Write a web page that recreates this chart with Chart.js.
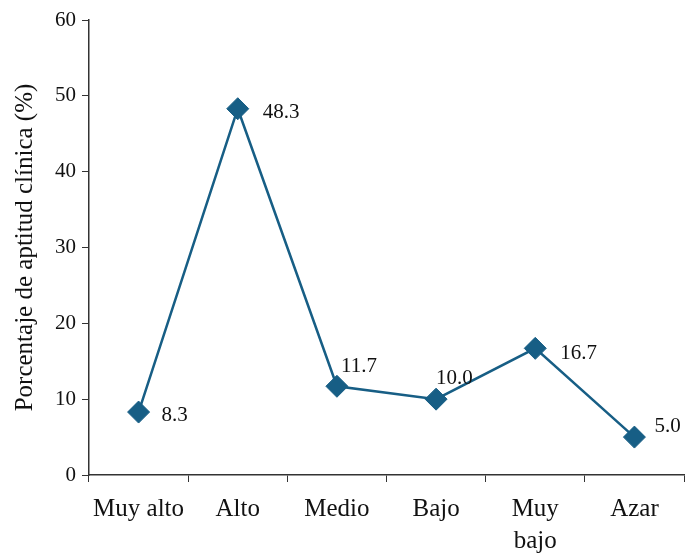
<!DOCTYPE html>
<html>
<head>
<meta charset="utf-8">
<script src="https://cdn.jsdelivr.net/npm/chart.js@4/dist/chart.umd.min.js"></script>
<style>
  html, body { margin: 0; padding: 0; background: #fff; }
  #wrap { width: 696px; height: 553px; }
</style>
</head>
<body>
<div id="wrap"><canvas id="myChart"></canvas></div>
<script>
const categories = ['Muy alto', 'Alto', 'Medio', 'Bajo', ['Muy', 'bajo'], 'Azar'];
const values = [8.3, 48.3, 11.7, 10.0, 16.7, 5.0];
const valueLabels = ['8.3', '48.3', '11.7', '10.0', '16.7', '5.0'];
// where each value label sits relative to its point (px)
const labelOffsets = [[23, 3], [25, 4], [4, -20], [0, -21], [25, 5], [20, -11]];

const lineColor = '#175e85';

const valueLabelPlugin = {
    id: 'valueLabels',
    afterDatasetsDraw(chart) {
        const ctx = chart.ctx;
        const meta = chart.getDatasetMeta(0);
        ctx.save();
        ctx.font = '21px "Liberation Serif", "Times New Roman", serif';
        ctx.fillStyle = '#111';
        ctx.textAlign = 'left';
        ctx.textBaseline = 'middle';
        meta.data.forEach((pt, i) => {
            ctx.fillText(valueLabels[i], pt.x + labelOffsets[i][0], pt.y + labelOffsets[i][1]);
        });
        ctx.restore();
    }
};

const data = {
    labels: categories,
    datasets: [{
        data: values,
        borderColor: lineColor,
        backgroundColor: lineColor,
        borderWidth: 2.5,
        tension: 0,
        pointStyle: 'rectRot',
        pointRadius: 11,
        pointHoverRadius: 11,
        pointBorderWidth: 1
    }]
};

const config = {
    type: 'line',
    data,
    options: {
        responsive: true,
        maintainAspectRatio: false,
        animation: false,
        layout: {
            padding: { top: 20, right: 9, left: 0, bottom: 0 }
        },
        scales: {
            x: {
                offset: true,
                grid: {
                    offset: true,
                    drawOnChartArea: false,
                    drawTicks: true,
                    tickLength: 7,
                    color: '#333'
                },
                border: { display: true, color: '#333', width: 1.5 },
                ticks: {
                    color: '#111',
                    padding: 11,
                    maxRotation: 0,
                    autoSkip: false,
                    font: { family: '"Liberation Serif", "Times New Roman", serif', size: 25, lineHeight: 1.3 }
                },
                afterFit(scale) { scale.height = 78; }
            },
            y: {
                min: 0,
                max: 60,
                grid: {
                    drawOnChartArea: false,
                    drawTicks: true,
                    tickLength: 7,
                    color: '#333'
                },
                border: { display: true, color: '#333', width: 1.5 },
                ticks: {
                    stepSize: 10,
                    color: '#111',
                    padding: 6,
                    font: { family: '"Liberation Serif", "Times New Roman", serif', size: 21 }
                },
                title: {
                    display: true,
                    text: 'Porcentaje de aptitud clínica (%)',
                    color: '#111',
                    padding: { top: 10, bottom: 0 },
                    font: { family: '"Liberation Serif", "Times New Roman", serif', size: 25 }
                },
                afterFit(scale) { scale.width = 89; }
            }
        },
        plugins: {
            legend: { display: false },
            tooltip: { enabled: false }
        }
    },
    plugins: [valueLabelPlugin]
};

var myChart = new Chart(
    document.getElementById('myChart'),
    config
);
</script>
</body>
</html>
